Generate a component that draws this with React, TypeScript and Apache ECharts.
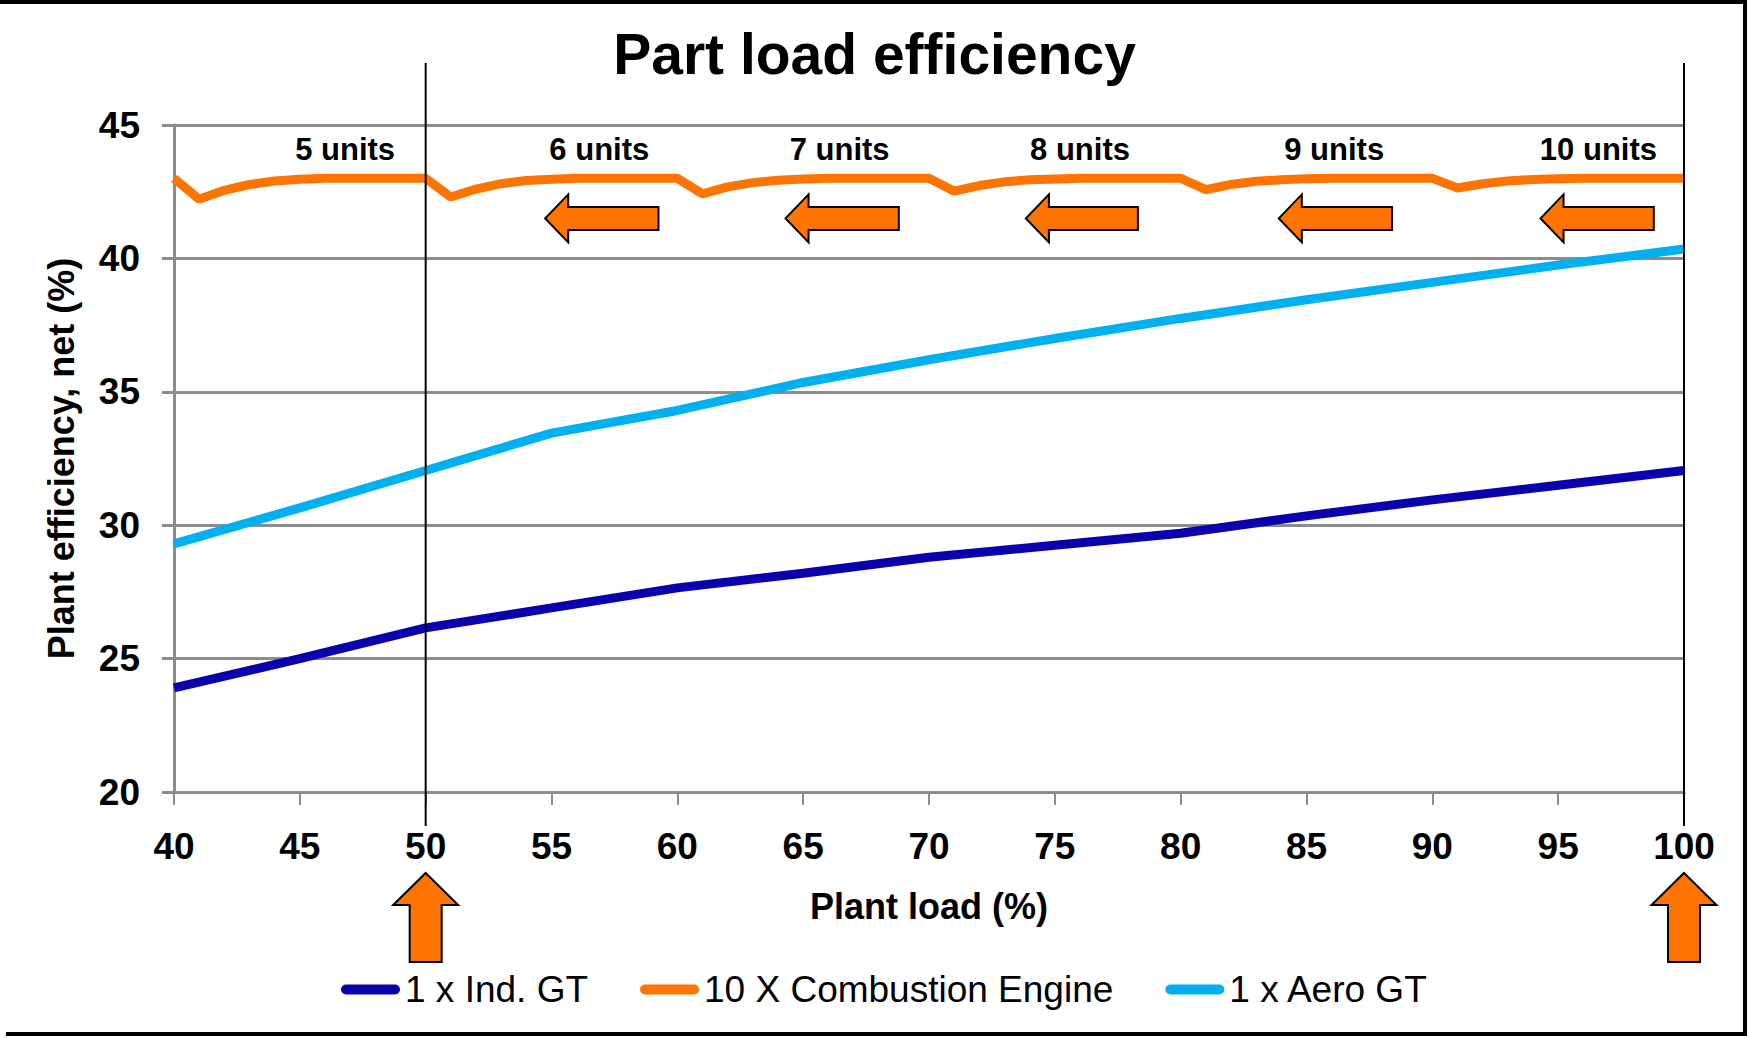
import React, { useEffect, useRef } from "react";
import * as echarts from "echarts";

// ---- data ----
const seriesNames = ["1 x Ind. GT", "10 X Combustion Engine", "1 x Aero GT"];
const seriesColors = ["#0c00ae", "#ff7400", "#00b0f0"];

const keyLoads = [40, 45, 50, 55, 60, 65, 70, 75, 80, 85, 90, 95, 100];
const indGtEff = [23.9, 25.0, 26.15, 26.9, 27.65, 28.2, 28.8, 29.25, 29.7, 30.35, 30.95, 31.5, 32.05];
const aeroGtEff = [29.3, 30.65, 32.05, 33.45, 34.3, 35.35, 36.2, 37.0, 37.75, 38.45, 39.1, 39.75, 40.35];

const engineLoads = [
  40, 41, 42, 43, 44, 45, 46, 47, 48, 49, 50,
  51, 52, 53, 54, 55, 56, 57, 58, 59, 60,
  61, 62, 63, 64, 65, 66, 67, 68, 69, 70,
  71, 72, 73, 74, 75, 76, 77, 78, 79, 80,
  81, 82, 83, 84, 85, 86, 87, 88, 89, 90,
  91, 92, 93, 94, 95, 96, 97, 98, 99, 100,
];
const engineEff = [
  43.0, 42.22, 42.55, 42.77, 42.9, 42.97, 43.0, 43.0, 43.0, 43.0, 43.0,
  42.3, 42.6, 42.8, 42.92, 42.97, 43.0, 43.0, 43.0, 43.0, 43.0,
  42.42, 42.68, 42.84, 42.93, 42.98, 43.0, 43.0, 43.0, 43.0, 43.0,
  42.52, 42.73, 42.87, 42.95, 42.98, 43.0, 43.0, 43.0, 43.0, 43.0,
  42.58, 42.77, 42.89, 42.95, 42.99, 43.0, 43.0, 43.0, 43.0, 43.0,
  42.64, 42.8, 42.9, 42.96, 42.99, 43.0, 43.0, 43.0, 43.0, 43.0,
];

const unitLabels = ["5 units", "6 units", "7 units", "8 units", "9 units", "10 units"];
const unitLabelX = [46.8, 56.9, 66.45, 76.0, 86.1, 96.6];
const unitLabelY = 44.1;

const leftArrowTip = [54.75, 64.3, 73.85, 83.9, 94.3];
const leftArrowTail = [59.25, 68.8, 78.3, 88.4, 98.8];
const leftArrowY = 41.5;

const markerLoads = [50, 100];

const xTicks = { min: 40, max: 100, interval: 5 };
const yTicks = { min: 20, max: 45, interval: 5 };

const FONT = "Liberation Sans, Arial, sans-serif";

export default function App() {
  const ref = useRef<HTMLDivElement>(null);

  useEffect(() => {
    document.body.style.margin = "0";
    const chart = echarts.init(ref.current!, null, { renderer: "svg" });

    const pair = (xs: number[], ys: number[]) => xs.map((x, i) => [x, ys[i]]);
    const lineSeries = (name: string, color: string, data: number[][]) => ({
      name,
      type: "line",
      data,
      showSymbol: false,
      symbol: "none",
      lineStyle: { color, width: 9 },
      itemStyle: { color },
      z: 3,
    });

    chart.setOption({
      animation: false,
      backgroundColor: "#ffffff",
      title: {
        text: "Part load efficiency",
        left: "center",
        top: 20,
        textStyle: { fontFamily: FONT, fontSize: 57, fontWeight: "bold", color: "#000" },
      },
      grid: { left: 174, right: 65, top: 125, bottom: 246, containLabel: false },
      legend: {
        data: seriesNames,
        left: 336,
        top: 966,
        itemWidth: 59,
        itemHeight: 10,
        itemGap: 52,
        icon: "path://M5,0 L54,0 A5,5 0 0 1 54,10 L5,10 A5,5 0 0 1 5,0 Z",
        textStyle: { fontFamily: FONT, fontSize: 37, color: "#000" },
      },
      xAxis: {
        type: "value",
        min: xTicks.min,
        max: xTicks.max,
        interval: xTicks.interval,
        name: "Plant load (%)",
        nameLocation: "middle",
        nameGap: 96,
        nameTextStyle: { fontFamily: FONT, fontSize: 36, fontWeight: "bold", color: "#000" },
        axisLine: { show: true, lineStyle: { color: "#8c8c8c", width: 3 } },
        axisTick: { show: true, inside: false, length: 13, lineStyle: { color: "#8c8c8c", width: 2 } },
        axisLabel: { margin: 36, fontFamily: FONT, fontSize: 37, fontWeight: "bold", color: "#000" },
        splitLine: { show: false },
      },
      yAxis: {
        type: "value",
        min: yTicks.min,
        max: yTicks.max,
        interval: yTicks.interval,
        name: "Plant efficiency, net (%)",
        nameLocation: "middle",
        nameGap: 95,
        nameTextStyle: { fontFamily: FONT, fontSize: 36, fontWeight: "bold", color: "#000" },
        axisLine: { show: true, lineStyle: { color: "#8c8c8c", width: 3 } },
        axisTick: { show: true, inside: false, length: 12, lineStyle: { color: "#8c8c8c", width: 3 } },
        axisLabel: { margin: 34, fontFamily: FONT, fontSize: 37, fontWeight: "bold", color: "#000" },
        splitLine: { show: true, lineStyle: { color: "#8c8c8c", width: 3 } },
      },
      series: [
        lineSeries(seriesNames[0], seriesColors[0], pair(keyLoads, indGtEff)),
        lineSeries(seriesNames[1], seriesColors[1], pair(engineLoads, engineEff)),
        lineSeries(seriesNames[2], seriesColors[2], pair(keyLoads, aeroGtEff)),
        {
          name: "unitLabels",
          type: "scatter",
          symbolSize: 1,
          itemStyle: { color: "#ffffff", opacity: 0 },
          silent: true,
          z: 5,
          label: {
            show: true,
            position: "inside",
            formatter: (p: any) => p.name,
            fontFamily: FONT,
            fontSize: 31,
            fontWeight: "bold",
            color: "#000000",
            opacity: 1,
            textBorderWidth: 0,
          },
          data: unitLabels.map((n, i) => ({ name: n, value: [unitLabelX[i], unitLabelY] })),
        },
      ],
    });

    // Decorations placed via the chart's own scales
    const px = (x: number, y: number) => chart.convertToPixel({ xAxisIndex: 0, yAxisIndex: 0 }, [x, y]) as number[];
    const graphics: any[] = [];
    const yTop = px(40, 45)[1];
    const yBottom = px(40, 20)[1];

    markerLoads.forEach((m) => {
      const x = px(m, 20)[0];
      graphics.push({
        type: "line",
        shape: { x1: x, y1: yTop - 62, x2: x, y2: yBottom + 34 },
        style: { stroke: "#000", lineWidth: 2 },
        z: 10,
      });
      const tip = yBottom + 81;
      const base = tip + 32;
      const bottom = tip + 89;
      graphics.push({
        type: "polygon",
        shape: {
          points: [
            [x, tip],
            [x + 32.5, base],
            [x + 16, base],
            [x + 16, bottom],
            [x - 16, bottom],
            [x - 16, base],
            [x - 32.5, base],
          ],
        },
        style: { fill: "#ff7400", stroke: "#000", lineWidth: 2 },
        z: 10,
      });
    });

    leftArrowTip.forEach((t, i) => {
      const [tx, cy] = px(t, leftArrowY);
      const rx = px(leftArrowTail[i], leftArrowY)[0];
      graphics.push({
        type: "polygon",
        shape: {
          points: [
            [tx, cy],
            [tx + 23, cy - 24],
            [tx + 23, cy - 11.5],
            [rx, cy - 11.5],
            [rx, cy + 11.5],
            [tx + 23, cy + 11.5],
            [tx + 23, cy + 24],
          ],
        },
        style: { fill: "#ff7400", stroke: "#000", lineWidth: 2 },
        z: 10,
      });
    });

    // outer frame
    graphics.push({
      type: "polyline",
      shape: { points: [[0, 2], [1745, 2], [1745, 1034], [6, 1034]] },
      style: { stroke: "#000", lineWidth: 4, fill: null },
      z: 20,
    });

    chart.setOption({ graphic: graphics });

    return () => chart.dispose();
  }, []);

  return (
    <div
      ref={ref}
      style={{ position: "fixed", left: 0, top: 0, width: 1749, height: 1038 }}
    />
  );
}
